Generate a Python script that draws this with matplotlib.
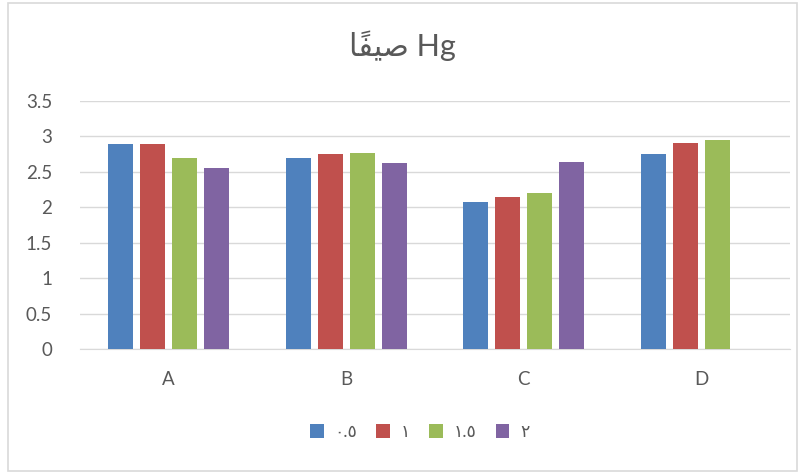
import numpy as np
import matplotlib.pyplot as plt
from matplotlib.patches import Rectangle

plt.rcParams['font.family'] = ['Lato', 'DejaVu Sans']

# Sites on the x axis
categories = ["A", "B", "C", "D"]

# Series names (Arabic-Indic digits)
series = ["\u0660.\u0665", "\u0661", "\u0661.\u0665", "\u0662"]

# Hg value of each series for each site
values = [[2.90, 2.70, 2.08, 2.75],
          [2.90, 2.75, 2.15, 2.91],
          [2.70, 2.76, 2.20, 2.95],
          [2.55, 2.62, 2.64, 0.0]]

colors = ['#4f81bd', '#c0504d', '#9bbb59', '#8064a2']

# Title written in shaped presentation forms, visual order
title = "\ufe8e\u064b\ufed4\ufef4\ufebb Hg"

fig = plt.figure(figsize=(8.04, 4.72), dpi=100)
ax = fig.add_axes([80/804, 1 - 349/472, 710/804, 248/472])

x = np.arange(len(categories))
slot = 0.18
bar_width = 0.14
for i in range(len(series)):
    ax.bar(x + (i - 1.5) * slot, values[i], width=bar_width, color=colors[i],
           label=series[i], zorder=3)

ax.set_xlim(-0.5, len(categories) - 0.5)
ax.set_ylim(0, 3.5)
ax.set_yticks(np.arange(0, 3.51, 0.5))
ax.set_yticklabels(["0", "0.5", "1", "1.5", "2", "2.5", "3", "3.5"])
ax.set_xticks(x)
ax.set_xticklabels(categories)
ax.tick_params(length=0, labelsize=13.5, colors='#595959')
ax.tick_params(axis='x', pad=16)
ax.tick_params(axis='y', pad=20)
ax.grid(axis='y', color='#d9d9d9', linewidth=1, zorder=0)
for s in ['top', 'right', 'left']:
    ax.spines[s].set_visible(False)
ax.spines['bottom'].set_color('#d9d9d9')
ax.spines['bottom'].set_zorder(1)

fig.text(0.5, 1 - 46/472, title, ha='center', va='center', fontsize=22, color='#595959')

leg = fig.legend(*ax.get_legend_handles_labels(), loc='center', bbox_to_anchor=(0.522, 1 - 432/472),
                 ncol=4, frameon=False, fontsize=12.5, handlelength=0.8, handleheight=0.8,
                 handletextpad=0.6, columnspacing=1.1)
for t in leg.get_texts():
    t.set_color('#595959')

# Outer chart border
fig.patches.append(Rectangle((8/804, 1/472), 789/804, 468/472, transform=fig.transFigure,
                             fill=False, edgecolor='#d9d9d9', linewidth=1.2))

fig.savefig("out.png", dpi=100)
